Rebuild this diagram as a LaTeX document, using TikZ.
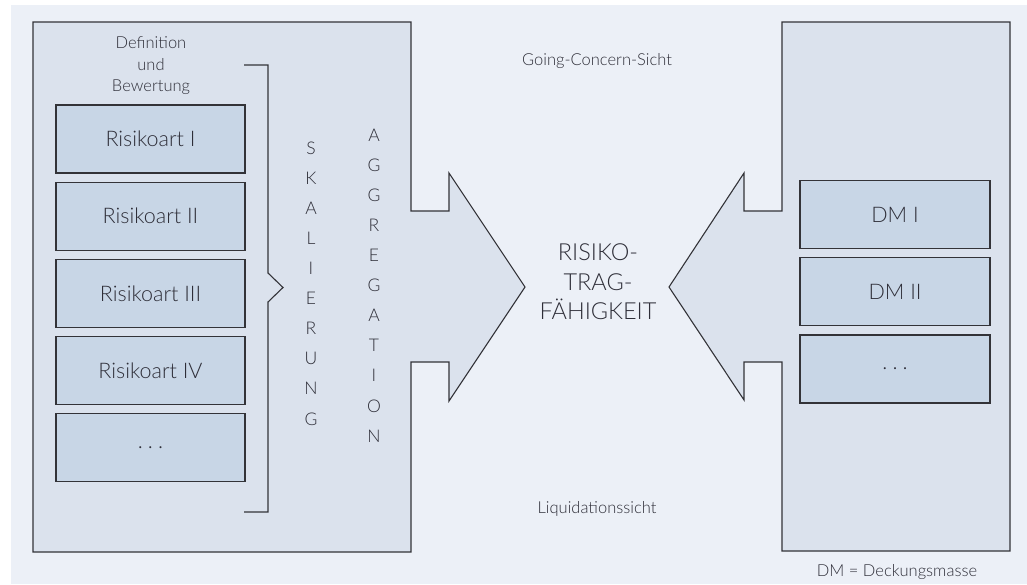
\documentclass[tikz,border=0pt]{standalone}
\usepackage{fontspec}
\IfFontExistsTF{Lato Light}{\setmainfont{Lato Light}}{\setmainfont{Lato}}
\usepackage{xcolor}
\usetikzlibrary{positioning}

\definecolor{bgblue}{HTML}{ECF0F7}
\definecolor{areablue}{HTML}{DBE2ED}
\definecolor{boxblue}{HTML}{C8D6E6}
\definecolor{txtgray}{HTML}{2E2E38}
\definecolor{linegray}{HTML}{333338}

\newcommand{\moredots}{.\hspace{5pt}.\hspace{5pt}.}

\begin{document}
\begin{tikzpicture}[x=1pt, y=-1pt, node distance=8pt, text=txtgray,
  every node/.style={font=\fontsize{16.5}{21.5}\selectfont},
  area/.style={draw=linegray, fill=areablue, line width=1.1pt, line join=miter},
  riskbox/.style={draw=linegray, fill=boxblue, line width=1.2pt, minimum width=189pt, minimum height=68pt, font=\fontsize{21.5}{24}\selectfont},
  letter/.style={inner sep=0pt, font=\fontsize{17.5}{20}\selectfont}]
\useasboundingbox (0,0) rectangle (1027,584);
\fill[bgblue] (11,5) rectangle (1027,584);

% left block with arrow towards the middle
\draw[area] (33,22) -- (411,22) -- (411,211) -- (449,211) -- (449,173) -- (525,287)
  -- (449,401) -- (449,362) -- (411,362) -- (411,552) -- (33,552) -- cycle;
% right block with arrow towards the middle
\draw[area] (1010,22) -- (782,22) -- (782,211) -- (744,211) -- (744,173) -- (669,287)
  -- (744,400) -- (744,362) -- (782,362) -- (782,551) -- (1010,551) -- cycle;

\node[align=center] (defbew) at (151,66) {Definition\\und\\Bewertung};
\node[riskbox] (r1) at (150.5,139) {Risikoart I};
\node[riskbox, below=of r1] (r2) {Risikoart II};
\node[riskbox, below=of r2] (r3) {Risikoart III};
\node[riskbox, below=of r3] (r4) {Risikoart IV};
\node[riskbox, below=of r4] (r5) {\moredots};

% brace
\draw[linegray, line width=1.1pt] (244,65) -- (268,65) -- (268,273) -- (283,287.5)
  -- (268,302) -- (268,512) -- (244,512);

\foreach \ch [count=\i from 0] in {S,K,A,L,I,E,R,U,N,G}
  \node[letter] (skal\i) at (311,148+30.1*\i) {\ch};
\foreach \ch [count=\i from 0] in {A,G,G,R,E,G,A,T,I,O,N}
  \node[letter] (aggr\i) at (374,135+30.1*\i) {\ch};

\node (going) at (597,61) {Going-Concern-Sicht};
\node (liqui) at (597,509) {Liquidationssicht};
\node[align=center, font=\fontsize{23.5}{29.5}\selectfont] (rtf) at (598,282) {RISIKO-\\TRAG-\\FÄHIGKEIT};

\node[riskbox, minimum width=190pt] (dm1) at (895,214.5) {DM I};
\node[riskbox, minimum width=190pt, below=of dm1] (dm2) {DM II};
\node[riskbox, minimum width=190pt, below=of dm2] (dm3) {\moredots};

\node (legend) at (897,572) {DM = Deckungsmasse};
\end{tikzpicture}
\end{document}
